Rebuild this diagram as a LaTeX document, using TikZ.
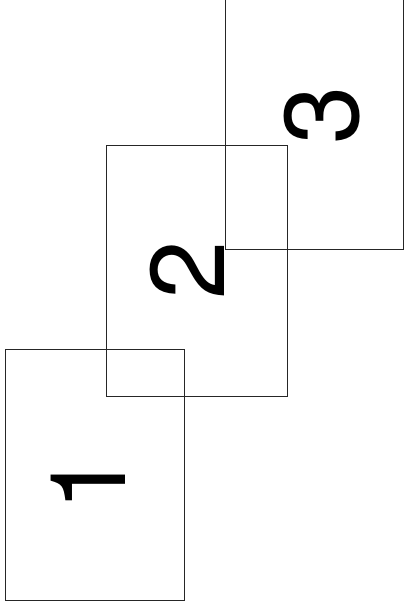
\documentclass[tikz,border=0pt]{standalone}
\usepackage{fontspec}
\setmainfont{TeX Gyre Heros}
\begin{document}
\begin{tikzpicture}[x=1pt,y=-1pt,
  page/.style={draw=black!85,line width=0.9pt},
  num/.style={rotate=90,anchor=base,inner sep=0pt,font=\fontsize{105}{105}\selectfont}]
\useasboundingbox (0,0) rectangle (406,611);
\draw[page] (5.5,349) rectangle (184.5,600.5) coordinate (r1);
\draw[page] (106,145) rectangle (287,396) coordinate (r2);
\draw[page] (225.5,-3) rectangle (403.5,249) coordinate (r3);
\node[num] (n1) at (125,482) {1};
\node[num] (n2) at (224,270.5) {2};
\node[num] (n3) at (358.5,115.5) {3};
\end{tikzpicture}
\end{document}
